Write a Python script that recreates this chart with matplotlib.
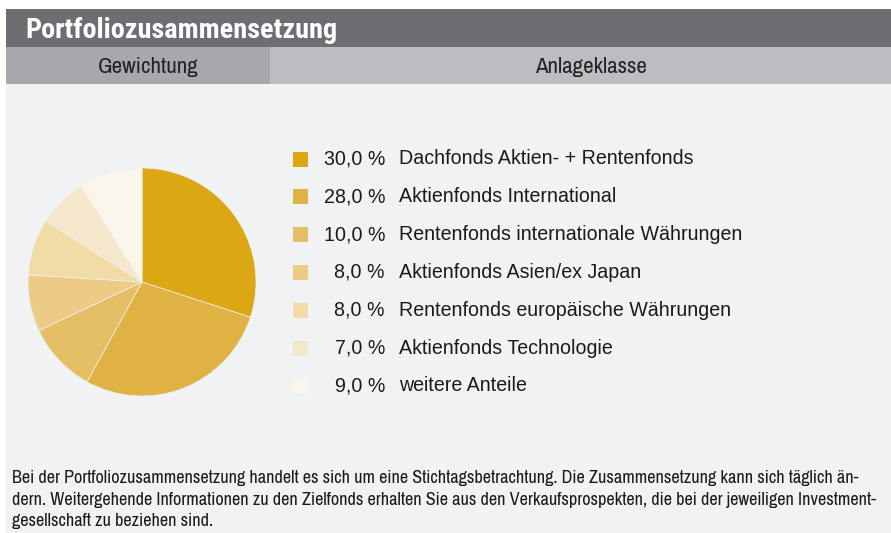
import matplotlib.pyplot as plt
from matplotlib.patches import Rectangle

# Daten
anteile = [30.0, 28.0, 10.0, 8.0, 8.0, 7.0, 9.0]
klassen = ['Dachfonds Aktien- + Rentenfonds',
           'Aktienfonds International',
           'Rentenfonds internationale Währungen',
           'Aktienfonds Asien/ex Japan',
           'Rentenfonds europäische Währungen',
           'Aktienfonds Technologie',
           'weitere Anteile']
farben = ['#dba714', '#e0b143', '#e5bf66', '#ebcb86', '#f1dba6', '#f5e7cb', '#faf6ec']

titel = 'Portfoliozusammensetzung'
spalten = ['Gewichtung', 'Anlageklasse']
fusszeile = ['Bei der Portfoliozusammensetzung handelt es sich um eine Stichtagsbetrachtung. Die Zusammensetzung kann sich täglich än-',
             'dern. Weitergehende Informationen zu den Zielfonds erhalten Sie aus den Verkaufsprospekten, die bei der jeweiligen Investment-',
             'gesellschaft zu beziehen sind.']

W, H = 891, 533
fig = plt.figure(figsize=(W / 100, H / 100), dpi=100)
fig.patch.set_facecolor('white')

# Hintergrund-Achse in Pixelkoordinaten
bg = fig.add_axes([0, 0, 1, 1])
bg.set_xlim(0, W)
bg.set_ylim(H, 0)
bg.axis('off')

bg.add_patch(Rectangle((6, 9), W - 6, 38, color='#6d6e72', lw=0))
bg.add_patch(Rectangle((6, 47), 264, 37, color='#a7a8ac', lw=0))
bg.add_patch(Rectangle((270, 47), W - 270, 37, color='#bcbdc1', lw=0))
bg.add_patch(Rectangle((6, 84), W - 6, H - 84, color='#f1f2f4', lw=0))

narrow = ['Archivo Narrow', 'DejaVu Sans']
fett = ['Roboto Condensed', 'Barlow Semi Condensed', 'DejaVu Sans']
bg.text(25, 30, titel, color='white', fontsize=20.3, fontweight='bold',
        family=fett, va='center', ha='left')
bg.text(148, 67, spalten[0], color='#222222', fontsize=16.5, family=narrow,
        va='center', ha='center')
bg.text(591, 67, spalten[1], color='#222222', fontsize=16.5, family=narrow,
        va='center', ha='center')

# Legende
for i, (a, k, f) in enumerate(zip(anteile, klassen, farben)):
    y = 159 + i * 37.8
    bg.add_patch(Rectangle((293, y - 7.5), 15, 15, color=f, lw=0))
    bg.text(385, y, f'{a:.1f} %'.replace('.', ','), color='#1a1a1a', fontsize=14.1,
            family='Liberation Sans', va='center', ha='right')
    bg.text(399, y, k, color='#1a1a1a', fontsize=14.1, family='Liberation Sans',
            va='center', ha='left')

# Fusszeile
for i, zeile in enumerate(fusszeile):
    bg.text(12, 478 + i * 21.5, zeile, color='#1a1a1a', fontsize=13.1,
            family=narrow, va='center', ha='left')

# Kreisdiagramm
cx, cy, r = 142, 282, 114
ax = fig.add_axes([(cx - r) / W, (H - cy - r) / H, 2 * r / W, 2 * r / H])
ax.pie(anteile, colors=farben, startangle=90, counterclock=False, radius=1,
       wedgeprops=dict(linewidth=0.5, edgecolor='#f1f2f4'))
ax.set_xlim(-1, 1)
ax.set_ylim(-1, 1)
ax.axis('off')

fig.savefig('out.png', dpi=100)
